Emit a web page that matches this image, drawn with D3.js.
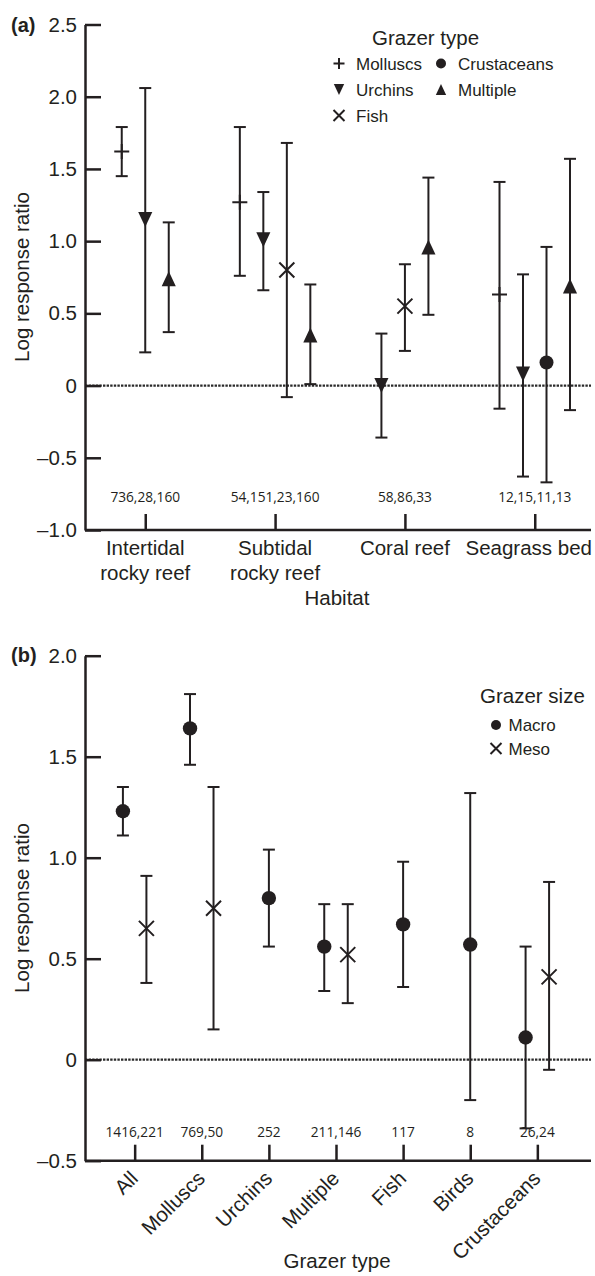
<!DOCTYPE html>
<html>
<head>
<meta charset="utf-8">
<script src="https://cdn.jsdelivr.net/npm/d3@7"></script>
<style>
  body { margin: 0; background: #fff; }
  text { font-family: Arial, "Liberation Sans", sans-serif; fill: #231f20; }
  .n { font-family: "Open Sans", sans-serif; font-size: 13.7px; }
</style>
</head>
<body>
<svg id="chart" width="595" height="1276"></svg>
<script>
// ---- panel (a): habitat ----
var habitats = ["Intertidal rocky reef", "Subtidal rocky reef", "Coral reef", "Seagrass bed"];
var habitatLines = [["Intertidal", "rocky reef"], ["Subtidal", "rocky reef"], ["Coral reef"], ["Seagrass bed"]];
var habitatCounts = ["736,28,160", "54,151,23,160", "58,86,33", "12,15,11,13"];
var aTicks = [-1, -0.5, 0, 0.5, 1, 1.5, 2, 2.5];

var aHabitat = [0, 0, 0, 1, 1, 1, 1, 2, 2, 2, 3, 3, 3, 3];
var aType = ["Molluscs", "Urchins", "Multiple",
             "Molluscs", "Urchins", "Fish", "Multiple",
             "Urchins", "Fish", "Multiple",
             "Molluscs", "Urchins", "Crustaceans", "Multiple"];
var aMean = [1.62, 1.15, 0.74, 1.27, 1.01, 0.80, 0.35, 0.00, 0.55, 0.96, 0.63, 0.08, 0.16, 0.69];
var aLow  = [1.45, 0.23, 0.37, 0.76, 0.66, -0.08, 0.01, -0.36, 0.24, 0.49, -0.16, -0.63, -0.67, -0.17];
var aHigh = [1.79, 2.06, 1.13, 1.79, 1.34, 1.68, 0.70, 0.36, 0.84, 1.44, 1.41, 0.77, 0.96, 1.57];

// ---- panel (b): grazer type ----
var grazerTypes = ["All", "Molluscs", "Urchins", "Multiple", "Fish", "Birds", "Crustaceans"];
var grazerCounts = ["1416,221", "769,50", "252", "211,146", "117", "8", "26,24"];
var bTicks = [-0.5, 0, 0.5, 1, 1.5, 2];

var bType = ["All", "All", "Molluscs", "Molluscs", "Urchins", "Multiple", "Multiple", "Fish", "Birds", "Crustaceans", "Crustaceans"];
var bSize = ["Macro", "Meso", "Macro", "Meso", "Macro", "Macro", "Meso", "Macro", "Macro", "Macro", "Meso"];
var bMean = [1.23, 0.65, 1.64, 0.75, 0.80, 0.56, 0.52, 0.67, 0.57, 0.11, 0.41];
var bLow  = [1.11, 0.38, 1.46, 0.15, 0.56, 0.34, 0.28, 0.36, -0.20, -0.34, -0.05];
var bHigh = [1.35, 0.91, 1.81, 1.35, 1.04, 0.77, 0.77, 0.98, 1.32, 0.56, 0.88];

var ink = "#231f20";
var svg = d3.select("#chart");

var fmt = function(d) {
  if (d === 0) return "0";
  return (d < 0 ? "\u2013" : "") + Math.abs(d).toFixed(1);
};

// marker shapes, s = half size
var shape = {
  Molluscs: "plus", Urchins: "down", Multiple: "up", Fish: "cross", Crustaceans: "dot",
  Macro: "dot", Meso: "cross"
};
function marker(g, kind, x, y, s) {
  if (kind === "dot") {
    g.append("circle").attr("cx", x).attr("cy", y).attr("r", s).attr("fill", ink);
  } else if (kind === "plus") {
    g.append("path").attr("d", "M" + (x - s) + "," + y + "H" + (x + s) + "M" + x + "," + (y - s) + "V" + (y + s))
      .attr("stroke", ink).attr("stroke-width", 2).attr("fill", "none");
  } else if (kind === "cross") {
    g.append("path").attr("d", "M" + (x - s) + "," + (y - s) + "L" + (x + s) + "," + (y + s) +
        "M" + (x - s) + "," + (y + s) + "L" + (x + s) + "," + (y - s))
      .attr("stroke", ink).attr("stroke-width", 2).attr("fill", "none");
  } else if (kind === "down") {
    var w = s * 0.94;
    g.append("path").attr("d", "M" + (x - w) + "," + (y - s) + "H" + (x + w) + "L" + x + "," + (y + s) + "Z").attr("fill", ink);
  } else if (kind === "up") {
    var w2 = s * 0.94;
    g.append("path").attr("d", "M" + (x - w2) + "," + (y + s) + "H" + (x + w2) + "L" + x + "," + (y - s) + "Z").attr("fill", ink);
  }
}

function errorBar(g, x, y0, y1, cap) {
  g.append("line").attr("x1", x).attr("x2", x).attr("y1", y0).attr("y2", y1);
  g.append("line").attr("x1", x - cap).attr("x2", x + cap).attr("y1", y0).attr("y2", y0);
  g.append("line").attr("x1", x - cap).attr("x2", x + cap).attr("y1", y1).attr("y2", y1);
}

function yAxis(y, ticks) {
  var g = svg.append("g").attr("transform", "translate(85,0)")
    .call(d3.axisLeft(y).tickValues(ticks).tickSizeInner(-16).tickSizeOuter(0).tickPadding(8).tickFormat(fmt));
  g.selectAll("path,line").attr("stroke", ink).attr("stroke-width", 2.5);
  g.selectAll("text").attr("font-size", 20.5).attr("font-family", null).attr("fill", ink);
  return g;
}

function zeroLine(y) {
  svg.append("line").attr("x1", 85).attr("x2", 591).attr("y1", y(0)).attr("y2", y(0))
    .attr("stroke", "#2a2a2a").attr("stroke-width", 2.2).attr("stroke-dasharray", "2.4,1.2");
}

// =============== (a) ===============
var ya = d3.scaleLinear().domain([-1, 2.5]).range([530, 24.5]);
var xa = d3.scalePoint().domain(habitats).range([85, 595]).padding(0.464);

zeroLine(ya);
yAxis(ya, aTicks);

var xaxA = svg.append("g").attr("transform", "translate(0,530)")
  .call(d3.axisBottom(xa).tickSizeInner(-16).tickSizeOuter(0).tickFormat(""));
xaxA.select(".domain").attr("d", "M85,0H591");
xaxA.selectAll("path,line").attr("stroke", ink).attr("stroke-width", 2.5);

svg.append("g").selectAll("text").data(habitats).enter().append("text")
  .attr("text-anchor", "middle").attr("font-size", 20.5)
  .attr("y", 555)
  .each(function(d, i) {
    var t = d3.select(this);
    habitatLines[i].forEach(function(line, j) {
      t.append("tspan").attr("x", xa(d)).attr("dy", j === 0 ? 0 : 25).text(line);
    });
    // keep the last label inside the axis end
    var half = this.getComputedTextLength() / habitatLines[i].length / 2;
    if (habitatLines[i].length === 1 && xa(d) + half > 592) {
      t.selectAll("tspan").attr("x", 592 - half);
    }
  });

svg.append("g").selectAll("text").data(habitatCounts).enter().append("text")
  .attr("class", "n").attr("text-anchor", "middle")
  .attr("x", function(d, i) { return xa(habitats[i]); }).attr("y", 502.3)
  .text(function(d) { return d; });

svg.append("text").attr("x", 337).attr("y", 605).attr("text-anchor", "middle").attr("font-size", 20.5).text("Habitat");
svg.append("text").attr("transform", "translate(29,277) rotate(-90)").attr("text-anchor", "middle")
  .attr("font-size", 20.5).text("Log response ratio");
svg.append("text").attr("x", 11).attr("y", 31.5).attr("font-size", 20).attr("font-weight", "bold").text("(a)");

var barsA = svg.append("g").attr("stroke", ink).attr("stroke-width", 2);
var marksA = svg.append("g");
aMean.forEach(function(m, i) {
  var h = aHabitat[i];
  var group = aHabitat.map(function(v, k) { return v === h ? k : -1; }).filter(function(k) { return k >= 0; });
  var pos = group.indexOf(i);
  var x = xa(habitats[h]) + (pos - (group.length - 1) / 2) * 23.5;
  errorBar(barsA, x, ya(aLow[i]), ya(aHigh[i]), 6);
  marker(marksA, shape[aType[i]], x, ya(m), shape[aType[i]] === "dot" ? 7 : 7.5);
});

// legend (a)
var legA = svg.append("g");
legA.append("text").attr("x", 372).attr("y", 45).attr("font-size", 20.5).text("Grazer type");
var legItemsA = [["Molluscs", 0, 0], ["Crustaceans", 1, 0], ["Urchins", 0, 1], ["Multiple", 1, 1], ["Fish", 0, 2]];
legItemsA.forEach(function(it) {
  var mx = 339 + it[1] * 102, my = 63.5 + it[2] * 26;
  marker(legA, shape[it[0]], mx, my, shape[it[0]] === "dot" ? 5 : 5.5);
  legA.append("text").attr("x", mx + 17).attr("y", my + 6).attr("font-size", 17).text(it[0]);
});

// =============== (b) ===============
var yb = d3.scaleLinear().domain([-0.5, 2]).range([1160.7, 655.7]);
var xb = d3.scalePoint().domain(grazerTypes).range([85, 587]).padding(0.74);

zeroLine(yb);
yAxis(yb, bTicks);

var xaxB = svg.append("g").attr("transform", "translate(0,1160.7)")
  .call(d3.axisBottom(xb).tickSizeInner(-16).tickSizeOuter(0));
xaxB.select(".domain").attr("d", "M85,0H591");
xaxB.selectAll("path,line").attr("stroke", ink).attr("stroke-width", 2.5);
xaxB.selectAll("text")
  .attr("font-size", 20.5).attr("font-family", null).attr("fill", ink)
  .attr("x", 0).attr("y", 0).attr("dy", 0)
  .attr("text-anchor", "end")
  .attr("transform", "translate(4,19) rotate(-45)");

svg.append("g").selectAll("text").data(grazerCounts).enter().append("text")
  .attr("class", "n").attr("text-anchor", "middle")
  .attr("x", function(d, i) { return xb(grazerTypes[i]); }).attr("y", 1136.7)
  .text(function(d) { return d; });

svg.append("text").attr("x", 337).attr("y", 1268).attr("text-anchor", "middle").attr("font-size", 20.5).text("Grazer type");
svg.append("text").attr("transform", "translate(29,908) rotate(-90)").attr("text-anchor", "middle")
  .attr("font-size", 20.5).text("Log response ratio");
svg.append("text").attr("x", 11).attr("y", 661.5).attr("font-size", 20).attr("font-weight", "bold").text("(b)");

var barsB = svg.append("g").attr("stroke", ink).attr("stroke-width", 2);
var marksB = svg.append("g");
bMean.forEach(function(m, i) {
  var t = bType[i];
  var group = bType.map(function(v, k) { return v === t ? k : -1; }).filter(function(k) { return k >= 0; });
  var pos = group.indexOf(i);
  var x = xb(t) + (pos - (group.length - 1) / 2) * 23.5;
  errorBar(barsB, x, yb(bLow[i]), yb(bHigh[i]), 6);
  marker(marksB, shape[bSize[i]], x, yb(m), shape[bSize[i]] === "dot" ? 7.2 : 7.5);
});

// legend (b)
var legB = svg.append("g");
legB.append("text").attr("x", 480).attr("y", 703.3).attr("font-size", 20.5).text("Grazer size");
["Macro", "Meso"].forEach(function(name, j) {
  var my = 725 + j * 23.5;
  marker(legB, shape[name], 496, my, name === "Macro" ? 5 : 5.5);
  legB.append("text").attr("x", 508.5).attr("y", my + 6).attr("font-size", 17).text(name);
});
</script>
</body>
</html>
